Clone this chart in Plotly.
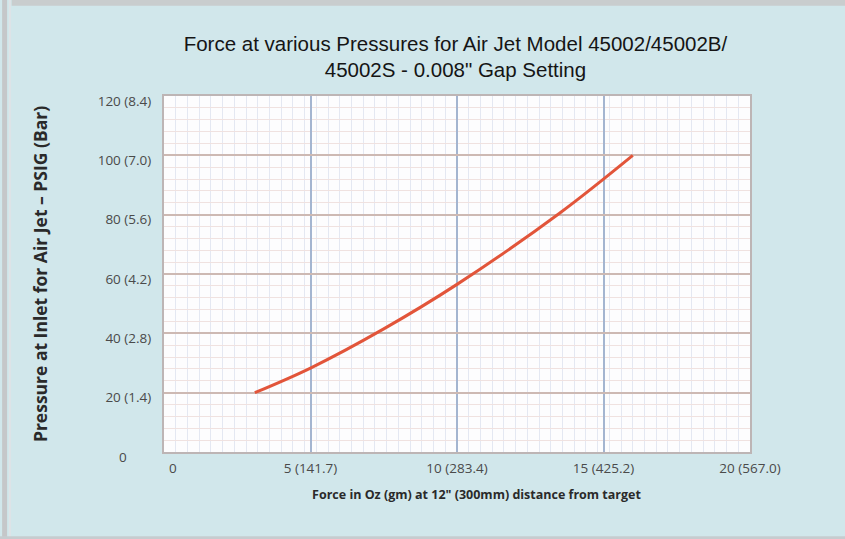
import plotly.graph_objects as go

# Force (oz) vs inlet pressure (PSIG) for the 45002 air jet at 0.008" gap
force_oz = [3.1, 5.0, 7.5, 10.0, 13.5, 16.0]
pressure_psig = [20, 28.3, 41.5, 56.5, 80.5, 100]

x_tick_vals = [0, 5, 10, 15, 20]
x_tick_text = ["\u00a0\u00a0\u00a0\u00a0\u00a00", "5 (141.7)", "10 (283.4)", "15 (425.2)", "20 (567.0)"]
y_tick_vals = [0, 20, 40, 60, 80, 100, 120]
y_tick_text = ["0" + "\u00a0" * 7, "20 (1.4)", "40 (2.8)", "60 (4.2)", "80 (5.6)", "100 (7.0)", "120 (8.4)"]

fig = go.Figure()
fig.add_trace(go.Scatter(
    x=force_oz, y=pressure_psig, mode="lines",
    line=dict(color="#e2553a", width=3, shape="spline", smoothing=1.0),
    showlegend=False, hoverinfo="x+y",
))

tick_font = dict(family="Open Sans, Lato, sans-serif", size=13.5, color="#4a4a4a")
label_font = dict(family="Open Sans, Lato, sans-serif", color="#2a2a2a", weight="bold")

fig.update_xaxes(
    range=[0, 20], tickvals=x_tick_vals, ticktext=x_tick_text,
    tickfont=tick_font, ticks="", ticklabelstandoff=3,
    showgrid=True, gridcolor="#a4b5d0", gridwidth=1.5,
    minor=dict(dtick=0.4, showgrid=True, gridcolor="#e4e8f2", gridwidth=1),
    showline=True, linecolor="#bdb5b5", linewidth=2, mirror=True,
    zeroline=False,
    # zero-width space keeps the padding from being trimmed, nudging the label right
    title=dict(text="\u200b" + "\u00a0" * 12 + "Force in Oz (gm) at 12\" (300mm) distance from target",
               font=dict(size=12.5, **label_font), standoff=14),
)
fig.update_yaxes(
    range=[0, 120], tickvals=y_tick_vals, ticktext=y_tick_text,
    tickfont=tick_font, ticks="", ticklabelstandoff=8, ticklabelshift=5,
    showgrid=True, gridcolor="#cdb9b3", gridwidth=2,
    minor=dict(dtick=4, showgrid=True, gridcolor="#f0e2e0", gridwidth=1),
    showline=True, linecolor="#bdb5b5", linewidth=2, mirror=True,
    zeroline=False,
    title=dict(text="Pressure at Inlet for Air Jet – PSIG (Bar)",
               font=dict(size=17.5, **label_font), standoff=46),
)

fig.update_layout(
    width=845, height=539,
    margin=dict(l=164, r=95, t=96, b=87),
    paper_bgcolor="#d1e7eb",
    plot_bgcolor="#fdfdfe",
    title=dict(
        text="Force at various Pressures for Air Jet Model 45002/45002B/<br>45002S - 0.008\" Gap Setting",
        x=0.539, xanchor="center", y=0.906, yanchor="middle",
        font=dict(family="Liberation Sans, Arial, sans-serif", size=20.5, color="#151515"),
    ),
    shapes=[
        # grey frame bands around the figure edge
        dict(type="line", xref="x domain", yref="y domain", x0=-0.26, x1=1.17,
             y0=1.262, y1=1.262, line=dict(color="#c9cdce", width=6)),
        dict(type="line", xref="x domain", yref="y domain", x0=-0.272, x1=-0.272,
             y0=-0.245, y1=1.27, line=dict(color="#c5c7c9", width=5)),
        dict(type="line", xref="x domain", yref="y domain", x0=-0.263, x1=-0.263,
             y0=-0.245, y1=1.27, line=dict(color="#dfe3e6", width=2)),
        dict(type="line", xref="x domain", yref="y domain", x0=-0.28, x1=1.17,
             y0=-0.241, y1=-0.241, line=dict(color="#c6cccf", width=3)),
    ],
)

fig.write_html("out.html")
